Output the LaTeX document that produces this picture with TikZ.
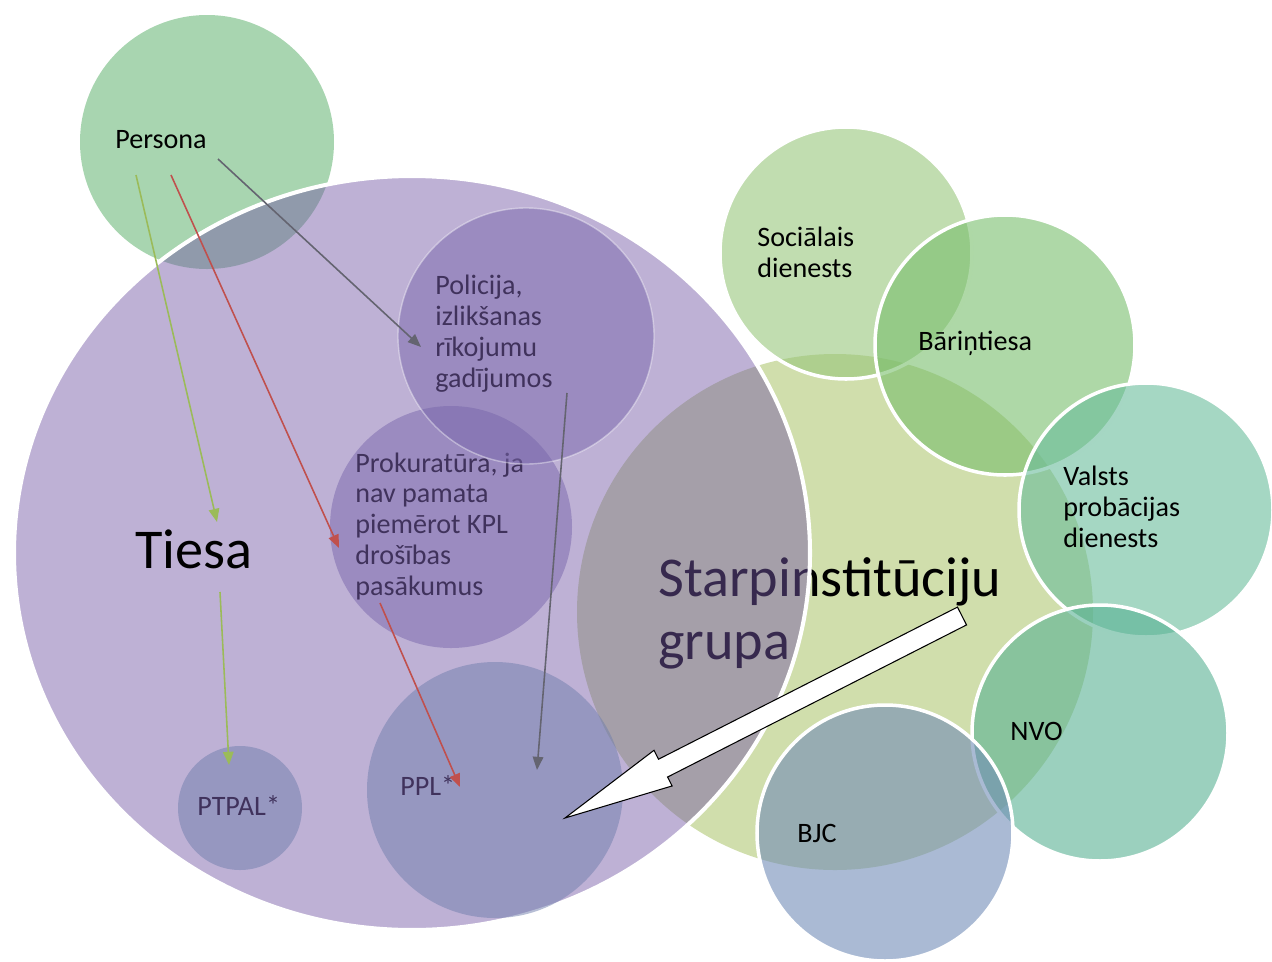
\documentclass[tikz,border=0pt]{standalone}
\usepackage{fontspec}
\setmainfont{Carlito}
\usetikzlibrary{arrows.meta,calc}
\definecolor{persgreen}{RGB}{168,213,176}
\definecolor{grpgreen}{RGB}{208,222,172}
\definecolor{tiesapurple}{RGB}{117,89,166}
\definecolor{innerpurple}{RGB}{120,103,171}
\definecolor{innerblue}{RGB}{112,126,172}
\definecolor{socgreen}{RGB}{152,198,123}
\definecolor{bargreen}{RGB}{120,190,108}
\definecolor{vpdteal}{RGB}{105,188,155}
\definecolor{nvoteal}{RGB}{88,177,147}
\definecolor{bjcblue}{RGB}{113,140,183}
\definecolor{purpletext}{RGB}{64,50,92}
\definecolor{arrgreen}{RGB}{155,187,89}
\definecolor{arrred}{RGB}{192,80,77}
\definecolor{arrgrey}{RGB}{100,100,112}

\begin{document}
\begin{tikzpicture}[x=0.02cm,y=-0.02cm,
    txt/.style={inner sep=0pt,anchor=base west,align=left,font=\fontsize{16}{17.5}\selectfont},
    bigtxt/.style={inner sep=0pt,anchor=base west,align=left,font=\fontsize{32}{35.7}\selectfont},
    ring/.style={fill opacity=0.6,draw=white,line width=2pt},
    inner/.style={fill opacity=0.5},
    link/.style={line width=0.9pt,-{Triangle[length=7.5pt,width=6pt]}}]
  \useasboundingbox (0,0) rectangle (1272,961);

  % persona, working group and the court
  \fill[persgreen] (207,142) circle (127);
  \fill[grpgreen] (835,612) circle (258);
  \node[bigtxt,text=black] (grp) at (658,659) {Starpinstitūciju\\grupa};
  \filldraw[fill=tiesapurple,fill opacity=0.47,draw=white,line width=2.3pt] (412,553) ellipse (398 and 377);

  % institutions inside the court
  \fill[innerblue,inner] (240,808) circle (62);
  \fill[innerblue,inner] (495,790) circle (128);
  \fill[innerpurple,inner] (451,527) circle (121);
  \node[txt,text=purpletext] (prok) at (355,595) {Prokuratūra, ja\\nav pamata\\piemērot KPL\\drošības\\pasākumus};
  \filldraw[innerpurple,inner,draw=white,draw opacity=0.4,line width=0.8pt] (526,336) circle (128);

  % partners of the group
  \filldraw[socgreen,ring] (846,253) circle (126);
  \filldraw[bargreen,ring] (1005,345) circle (130);
  \filldraw[vpdteal,ring] (1146,510) circle (127);
  \filldraw[nvoteal,ring] (1100,733) circle (128);
  \filldraw[bjcblue,ring] (885,833) circle (128);

  % texts (base = last line)
  \node[txt] (pers) at (115,148) {Persona};
  \node[bigtxt] (tiesa) at (135,568) {Tiesa};
  \node[txt,text=purpletext] (pol) at (435,387) {Policija,\\izlikšanas\\rīkojumu\\gadījumos};
  \node[txt,text=purpletext] (ptpal) at (197,815) {PTPAL*};
  \node[txt,text=purpletext] (ppl) at (400,795) {PPL*};
  \node[txt] (soc) at (757,277) {Sociālais\\dienests};
  \node[txt] (bar) at (918,350) {Bāriņtiesa};
  \node[txt] (vpd) at (1063,547) {Valsts\\probācijas\\dienests};
  \node[txt] (nvo) at (1010,740) {NVO};
  \node[txt] (bjc) at (797,842) {BJC};

  % arrow ends
  \coordinate (persG) at (136,175);
  \coordinate (persR) at (171,175);
  \coordinate (persK) at (218,159);
  \coordinate (tiesaIn) at (217,522);
  \coordinate (tiesaOut) at (220,592);
  \coordinate (ptpalIn) at (229,765);
  \coordinate (prokIn) at (339,548);
  \coordinate (prokOut) at (380,603);
  \coordinate (polIn) at (421,347);
  \coordinate (polOut) at (567,393);
  \coordinate (pplR) at (460,787);
  \coordinate (pplK) at (537,770);

  \draw[link,arrgreen] (persG) -- (tiesaIn);
  \draw[link,arrgreen] (tiesaOut) -- (ptpalIn);
  \draw[link,arrred] (persR) -- (prokIn);
  \draw[link,arrred] (prokOut) -- (pplR);
  \draw[link,arrgrey] (persK) -- (polIn);
  \draw[link,arrgrey] (polOut) -- (pplK);

  % block arrow from the group to PPL
  \coordinate (grpTail) at (962,616);
  \coordinate (grpTip) at (565,818);
  \coordinate (grpNeck) at ($(grpTip)!0.247!(grpTail)$);
  \filldraw[fill=white,draw=black,line width=0.6pt]
    ($(grpTail)!0.2cm!90:(grpTip)$) -- ($(grpNeck)!0.2cm!-90:(grpTail)$)
    -- ($(grpNeck)!0.4cm!-90:(grpTail)$) -- (grpTip)
    -- ($(grpNeck)!0.4cm!90:(grpTail)$) -- ($(grpNeck)!0.2cm!90:(grpTail)$)
    -- ($(grpTail)!0.2cm!-90:(grpTip)$) -- cycle;
\end{tikzpicture}
\end{document}
